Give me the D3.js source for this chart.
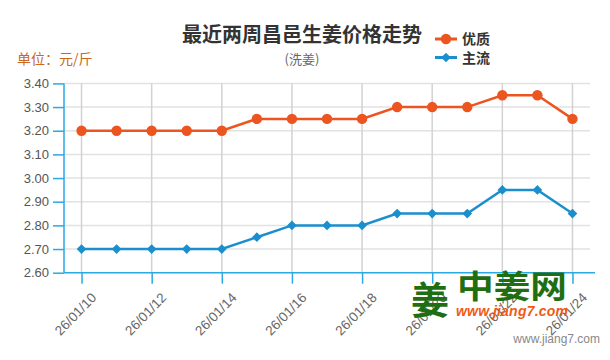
<!DOCTYPE html>
<html><head><meta charset="utf-8">
<script src="https://cdn.jsdelivr.net/npm/d3@7/dist/d3.min.js"></script>
<style>body{margin:0;background:#fff;}svg{display:block;font-family:"Microsoft YaHei","Noto Sans CJK SC",Arial,sans-serif;}</style>
</head><body>
<svg id="c" width="610" height="360"></svg>
<script>
const dates = ["26/01/10","26/01/11","26/01/12","26/01/13","26/01/14","26/01/15","26/01/16","26/01/17","26/01/18","26/01/19","26/01/20","26/01/21","26/01/22","26/01/23","26/01/24"];
const premium = [3.20,3.20,3.20,3.20,3.20,3.25,3.25,3.25,3.25,3.30,3.30,3.30,3.35,3.35,3.25];
const mainstream = [2.70,2.70,2.70,2.70,2.70,2.75,2.80,2.80,2.80,2.85,2.85,2.85,2.95,2.95,2.85];
const yTicks = [2.60,2.70,2.80,2.90,3.00,3.10,3.20,3.30,3.40];
const xTickLabels = ["26/01/10","26/01/12","26/01/14","26/01/16","26/01/18","26/01/20","26/01/22","26/01/24"];
const seriesNames = ["优质","主流"];
const colors = ["#ec5520","#1b8fce"];

const svg = d3.select("#c");
const L=64, R=590, T=83.4, B=272.7;
const x = d3.scalePoint().domain(dates).range([L,R]).padding(0.5);
const y = d3.scaleLinear().domain([2.60,3.40]).range([B,T]);

// grid
svg.append("g").selectAll("line").data(yTicks.slice(1)).join("line")
  .attr("x1",L).attr("x2",R).attr("y1",d=>y(d)).attr("y2",d=>y(d))
  .attr("stroke","#e2e2e2").attr("stroke-width",1.5);
svg.append("g").selectAll("line").data(xTickLabels).join("line")
  .attr("x1",d=>x(d)).attr("x2",d=>x(d)).attr("y1",T).attr("y2",B)
  .attr("stroke","#d2d2d2").attr("stroke-width",1.5);

// y axis
const yAx = svg.append("g").attr("transform",`translate(${L},0)`)
  .call(d3.axisLeft(y).tickValues(yTicks).tickFormat(d3.format(".2f")).tickSize(11).tickPadding(4));
yAx.select(".domain").attr("stroke","#2aa9e2").attr("stroke-width",1.5).attr("d",`M0,${T}V${B}`);
yAx.selectAll(".tick line").attr("stroke","#2aa9e2").attr("stroke-width",1.5);
yAx.selectAll(".tick text").attr("fill","#555").attr("font-size",13).attr("font-family","Arial, Liberation Sans, sans-serif");

// x axis
const xAx = svg.append("g").attr("transform",`translate(0,${B})`)
  .call(d3.axisBottom(x).tickValues(xTickLabels).tickSize(11).tickSizeOuter(0));
xAx.select(".domain").attr("stroke","#2aa9e2").attr("stroke-width",1.5).attr("d",`M${L},0H${R+5}`);
xAx.selectAll(".tick line").attr("stroke","#2aa9e2").attr("stroke-width",1.5);
xAx.selectAll(".tick text").attr("fill","#666").attr("font-size",13.5).attr("font-family","Arial, Liberation Sans, sans-serif")
  .attr("text-anchor","end").attr("dy",0).attr("transform","translate(5,16) rotate(-46)");

// lines
const line = d3.line().x((d,i)=>x(dates[i])).y(d=>y(d));
[premium, mainstream].forEach((s,k)=>{
  svg.append("path").attr("d",line(s)).attr("fill","none").attr("stroke",colors[k]).attr("stroke-width",2.5);
});
svg.append("g").selectAll("circle").data(premium).join("circle")
  .attr("cx",(d,i)=>x(dates[i])).attr("cy",d=>y(d)).attr("r",5.2).attr("fill",colors[0]);
const diamond = d3.symbol().type(d3.symbolDiamond2).size(60);
svg.append("g").selectAll("path").data(mainstream).join("path")
  .attr("d",diamond).attr("transform",(d,i)=>`translate(${x(dates[i])},${y(d)})`).attr("fill",colors[1]);

// title
svg.append("text").attr("x",302).attr("y",42).attr("text-anchor","middle").attr("font-size",20).attr("font-weight","bold").attr("fill","#333").text("最近两周昌邑生姜价格走势");
svg.append("text").attr("x",302).attr("y",64).attr("text-anchor","middle").attr("font-size",13).attr("fill","#666").text("(洗姜)");
svg.append("text").attr("x",17).attr("y",64).attr("font-size",14).attr("fill","#c9671c").text("单位：元/斤");

// legend
const lg = svg.append("g");
[0,1].forEach(k=>{
  const yy = 39 + k*18.5;
  lg.append("line").attr("x1",435).attr("x2",457).attr("y1",yy).attr("y2",yy).attr("stroke",colors[k]).attr("stroke-width",3);
  if(k===0) lg.append("circle").attr("cx",446).attr("cy",yy).attr("r",5.2).attr("fill",colors[0]);
  else lg.append("path").attr("d",diamond).attr("transform",`translate(446,${yy})`).attr("fill",colors[1]);
  lg.append("text").attr("x",462).attr("y",yy+5).attr("font-size",14).attr("font-weight","bold").attr("fill","#333").text(seriesNames[k]);
});

// watermark logo
svg.append("text").attr("x",411).attr("y",314).attr("font-size",38).attr("font-weight","bold").attr("fill","#1f6e12").text("姜");
svg.append("text").attr("x",457).attr("y",298).attr("font-size",32).attr("font-weight","bold").attr("fill","#1f6e12")
  .attr("textLength",110).attr("lengthAdjust","spacingAndGlyphs").text("中姜网");
svg.append("text").attr("x",456).attr("y",316).attr("font-size",14).attr("font-weight","bold").attr("font-style","italic").attr("fill","#f05a14")
  .attr("font-family","Arial, Liberation Sans, sans-serif").attr("textLength",112).text("www.jiang7.com");
svg.append("text").attr("x",600).attr("y",343).attr("text-anchor","end").attr("font-size",12).attr("fill","#888")
  .attr("font-family","Arial, Liberation Sans, sans-serif").text("www.jiang7.com");
</script>
</body></html>
